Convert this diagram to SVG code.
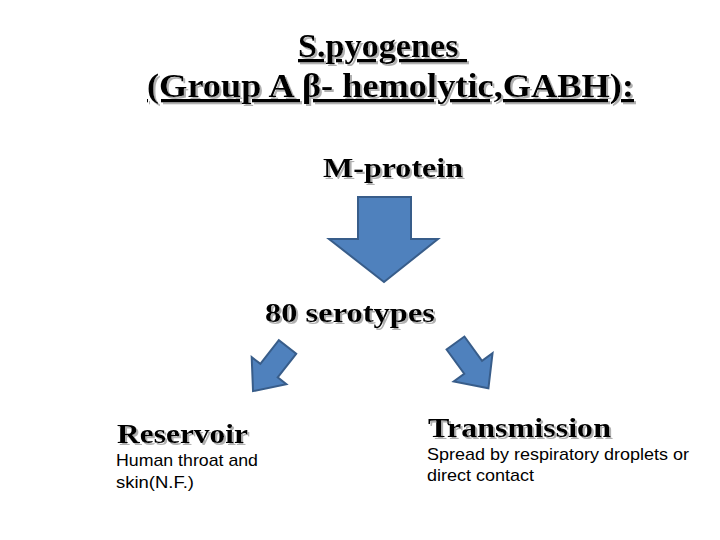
<svg xmlns="http://www.w3.org/2000/svg" width="720" height="540" viewBox="0 0 720 540">
<defs>
<filter id="sh" x="-10%" y="-20%" width="120%" height="150%">
<feOffset in="SourceAlpha" dx="2" dy="2" result="o"/>
<feFlood flood-color="#b0b0b0"/>
<feComposite in2="o" operator="in" result="s"/>
<feMerge><feMergeNode in="s"/><feMergeNode in="SourceGraphic"/></feMerge>
</filter>
</defs>
<style>
.t{font-family:"Liberation Serif","Times New Roman",serif;font-weight:bold;fill:#000;filter:url(#sh)}
.b{font-family:"Liberation Sans",Arial,sans-serif;font-size:17px;fill:#000}
.ar{fill:#4f81bd;stroke:#385d8a;stroke-width:2;stroke-linejoin:miter}
</style>
<rect width="720" height="540" fill="#fff"/>
<g id="title">
<text class="t" x="298" y="57" font-size="33" text-decoration="underline" textLength="169" lengthAdjust="spacingAndGlyphs" xml:space="preserve">S.pyogenes </text>
<text class="t" x="147" y="97" font-size="33" text-decoration="underline" textLength="487" lengthAdjust="spacingAndGlyphs">(Group A β- hemolytic,GABH):</text>
</g>
<g id="mprotein"><text class="t" x="323" y="177" font-size="28" textLength="140" lengthAdjust="spacingAndGlyphs">M-protein</text></g>
<g id="serotypes"><text class="t" x="265" y="322" font-size="28" textLength="170" lengthAdjust="spacingAndGlyphs">80 serotypes</text></g>
<g id="reservoir">
<text class="t" x="117" y="443" font-size="27" textLength="131" lengthAdjust="spacingAndGlyphs">Reservoir</text>
<text class="b" x="116" y="466" textLength="142" lengthAdjust="spacingAndGlyphs">Human throat and</text>
<text class="b" x="116" y="488" textLength="78" lengthAdjust="spacingAndGlyphs">skin(N.F.)</text>
</g>
<g id="transmission">
<text class="t" x="428" y="437" font-size="27" textLength="183" lengthAdjust="spacingAndGlyphs">Transmission</text>
<text class="b" x="427" y="460" textLength="262" lengthAdjust="spacingAndGlyphs">Spread by respiratory droplets or</text>
<text class="b" x="427" y="481" textLength="107" lengthAdjust="spacingAndGlyphs">direct contact</text>
</g>
<g id="connectors">
<polygon class="ar" points="358,197 411,197 411,239 438,239 384,282 329,239 358,239"/>
<polygon class="ar" transform="translate(287.5,347) rotate(128)" points="0,-11 30,-11 30,-22 56,0 30,22 30,11 0,11"/>
<polygon class="ar" transform="translate(455.5,343) rotate(54)" points="0,-11 30,-11 30,-24 56,0 30,24 30,11 0,11"/>
</g>
</svg>
